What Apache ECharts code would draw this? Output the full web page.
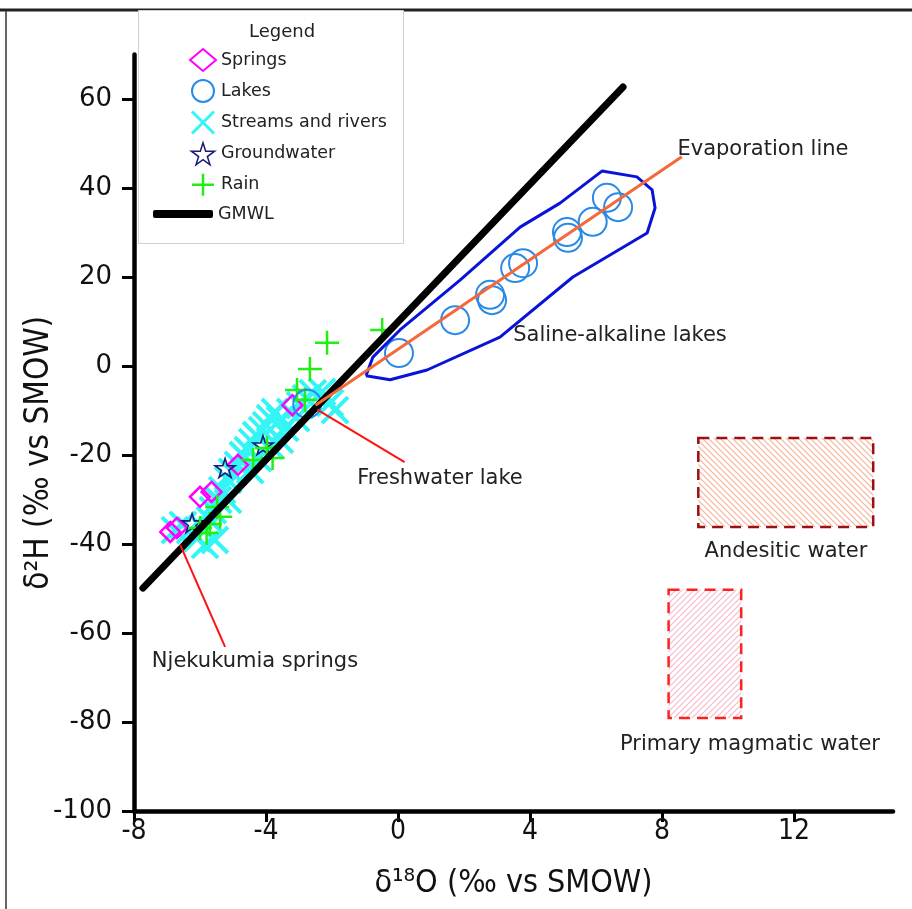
<!DOCTYPE html>
<html><head><meta charset="utf-8">
<script src="https://cdn.jsdelivr.net/npm/echarts@6/dist/echarts.min.js"></script>
<style>html,body{margin:0;padding:0;background:#fff}#c{width:912px;height:909px}</style>
</head><body><div id="c"></div>
<script>
// ---- axis ticks ----
const xTicks = [-8, -4, 0, 4, 8, 12];
const yTicks = [-100, -80, -60, -40, -20, 0, 20, 40, 60];

// ---- data (δ18O, δ2H) ----
const springsX = [-6.9, -6.7, -6.0, -5.65, -4.85, -3.2];
const springsY = [-37.3, -36.4, -29.4, -28.3, -22.2, -8.8];

const lakesX = [-2.75, 0.03, 1.73, 2.79, 2.85, 3.55, 3.79, 5.12, 5.15, 5.9, 6.33, 6.67];
const lakesY = [-8.5, 2.9, 10.3, 16.0, 14.8, 22.0, 23.1, 30.1, 28.8, 32.4, 37.8, 35.7];

const streamsX = [-6.76, -6.52, -6.30, -6.09, -5.85, -5.70, -5.61, -5.45, -5.33, -5.15, -5.03, -4.85, -4.70, -4.55, -4.42, -4.30, -4.12, -4.0, -3.88, -3.73, -3.58, -3.42, -3.27, -3.09, -2.97, -2.79, -2.58, -2.30, -2.06, -1.91, -4.48, -4.24, -5.15, -5.55, -5.85, -3.88, -3.58];
const streamsY = [-36.9, -35.7, -36.9, -38.7, -36.9, -34.6, -32.4, -30.1, -27.9, -25.6, -23.8, -22.2, -20.0, -18.9, -17.1, -15.5, -14.4, -13.3, -11.7, -10.3, -12.1, -13.9, -10.3, -11.7, -8.8, -7.2, -6.1, -5.8, -8.3, -9.9, -23.4, -20.7, -30.1, -39.1, -40.2, -17.8, -16.6];

const groundX = [-6.24, -5.24, -4.09];
const groundY = [-35.3, -22.9, -17.8];

const rainX = [-0.48, -2.15, -2.67, -3.06, -2.82, -4.39, -3.97, -3.8, -5.48, -5.39, -5.8, -6.0, -5.7];
const rainY = [8.1, 5.2, -0.7, -5.4, -7.6, -21.1, -18.4, -20.7, -31.7, -33.9, -37.5, -36.4, -35.5];

const gmwlX = [-7.73, 6.82];
const gmwlY = [-49.9, 62.7];

const evapX = [-2.5, 8.6];
const evapY = [-8.8, 47.0];

const salineX = [-0.97, -0.24, 0.88, 3.09, 5.3, 7.55, 7.79, 7.7, 7.24, 6.18, 4.91, 3.7, 1.88, 0.06, -0.76, -0.97];
const salineY = [-2.2, -3.1, -0.9, 6.5, 20, 29.9, 35.5, 39.6, 42.5, 43.8, 36.6, 31.2, 19.3, 8.1, 2.0, -2.2];

// boxes: [xMin, xMax, yMin, yMax]
const andesiticBox = [9.1, 14.4, -36.2, -16.2];
const magmaticBox = [8.2, 10.4, -79.1, -50.3];

// arrows: [fromX, fromY, toX, toY]
const freshArrow = [0.2, -21.6, -2.45, -9.8];
const springArrow = [-5.24, -63.1, -6.6, -40.2];

function zip(a, b) { return a.map((v, i) => [v, b[i]]); }

function hatch(color, dir) {
  const c = document.createElement('canvas');
  c.width = 6; c.height = 6;
  const g = c.getContext('2d');
  g.strokeStyle = color; g.lineWidth = 1.2;
  g.beginPath();
  if (dir > 0) {
    g.moveTo(-1, 7); g.lineTo(7, -1);
    g.moveTo(-1, 1); g.lineTo(1, -1);
    g.moveTo(5, 7); g.lineTo(7, 5);
  } else {
    g.moveTo(-1, -1); g.lineTo(7, 7);
    g.moveTo(-1, 5); g.lineTo(1, 7);
    g.moveTo(5, -1); g.lineTo(7, 1);
  }
  g.stroke();
  return c;
}

const STAR = 'path://M50 0 L61 35 L98 35 L68 57 L79 91 L50 70 L21 91 L32 57 L2 35 L39 35 Z';
const XS = 'path://M0 0 L10 10 M10 0 L0 10';
const PLUS = 'path://M5 0 L5 10 M0 5 L10 5';
const T = 'rgba(0,0,0,0)';
const ANN = {fontSize: 21, fontFamily: 'DejaVu Sans', fill: '#222', align: 'center', verticalAlign: 'middle'};

const chart = echarts.init(document.getElementById('c'), null, {renderer: 'canvas'});

function boxSeries(name, box, stroke, fillColor, dir) {
  return {
    name: name, type: 'custom', silent: true, z: 1,
    data: [box],
    renderItem: function (params, api) {
      const p0 = api.coord([api.value(0), api.value(3)]);
      const p1 = api.coord([api.value(1), api.value(2)]);
      return {
        type: 'rect',
        shape: {x: p0[0], y: p0[1], width: p1[0] - p0[0], height: p1[1] - p0[1]},
        style: {fill: {image: hatch(fillColor, dir), repeat: 'repeat'}, stroke: stroke, lineWidth: 2.5, lineDash: [11, 7]}
      };
    },
    encode: {x: [0, 1], y: [2, 3]}
  };
}

const option = {
  animation: false,
  grid: {left: 134, right: 19, top: 54.5, bottom: 98},
  xAxis: {
    type: 'value', min: -8, max: 15,
    axisLine: {onZero: false, lineStyle: {color: '#000', width: 4.5}},
    axisTick: {length: 11, lineStyle: {width: 3, color: '#000'}, customValues: xTicks},
    axisLabel: {customValues: xTicks, margin: 7, fontSize: 28, fontFamily: 'DejaVu Sans Condensed', color: '#111'},
    splitLine: {show: false},
    name: 'δ¹⁸O (‰ vs SMOW)', nameLocation: 'middle', nameGap: 57,
    nameTextStyle: {fontSize: 32, fontFamily: 'DejaVu Sans Condensed', color: '#111'}
  },
  yAxis: {
    type: 'value', min: -100, max: 70,
    axisLine: {onZero: false, lineStyle: {color: '#000', width: 4.5}},
    axisTick: {length: 12, lineStyle: {width: 3, color: '#000'}, customValues: yTicks},
    axisLabel: {customValues: yTicks, margin: 22, fontSize: 26, fontFamily: 'DejaVu Sans', color: '#111'},
    splitLine: {show: false},
    name: 'δ²H (‰ vs SMOW)', nameLocation: 'middle', nameGap: 78, nameMoveOverlap: false,
    nameTextStyle: {fontSize: 33, fontFamily: 'DejaVu Sans Condensed', color: '#111', padding: [0, 40, 0, 0]}
  },
  legend: [{
    data: [
      {name: 'Springs'},
      {name: 'Lakes'},
      {name: 'Streams and rivers', itemStyle: {borderWidth: 3}},
      {name: 'Groundwater', itemStyle: {borderWidth: 1.5}},
      {name: 'Rain', itemStyle: {borderWidth: 2.5}}
    ],
    orient: 'vertical', left: 189, top: 48, itemWidth: 26, itemHeight: 22, itemGap: 7,
    selectedMode: false, padding: 0,
    textStyle: {fontSize: 17.5, fontFamily: 'DejaVu Sans', color: '#222'}
  }, {
    data: [{name: 'GMWL', icon: 'roundRect', itemStyle: {color: '#000', borderWidth: 0}}],
    orient: 'vertical', left: 153, top: 205, itemWidth: 60, itemHeight: 8,
    selectedMode: false, padding: 0,
    textStyle: {fontSize: 17.5, fontFamily: 'DejaVu Sans', color: '#222'}
  }],
  graphic: [
    {type: 'line', shape: {x1: 0, y1: 10, x2: 912, y2: 10}, style: {stroke: '#222', lineWidth: 3}, z: 0},
    {type: 'line', shape: {x1: 6, y1: 10, x2: 6, y2: 909}, style: {stroke: '#333', lineWidth: 1.5}, z: 0},
    {type: 'rect', shape: {x: 138.5, y: 10.5, width: 265, height: 233}, style: {fill: '#fff', stroke: '#d0d0d0', lineWidth: 1}, z: 0},
    {type: 'text', x: 282, y: 32, style: Object.assign({}, ANN, {text: 'Legend', fontSize: 18}), z: 5},
    {type: 'text', x: 763, y: 150, style: Object.assign({}, ANN, {text: 'Evaporation line'}), z: 5},
    {type: 'text', x: 620, y: 336, style: Object.assign({}, ANN, {text: 'Saline-alkaline lakes'}), z: 5},
    {type: 'text', x: 440, y: 479, style: Object.assign({}, ANN, {text: 'Freshwater lake'}), z: 5},
    {type: 'text', x: 255, y: 662, style: Object.assign({}, ANN, {text: 'Njekukumia springs'}), z: 5},
    {type: 'text', x: 786, y: 552, style: Object.assign({}, ANN, {text: 'Andesitic water'}), z: 5},
    {type: 'text', x: 750, y: 745, style: Object.assign({}, ANN, {text: 'Primary magmatic water'}), z: 5}
  ],
  series: [
    boxSeries('Andesitic water', andesiticBox, '#9b1111', '#f5b29a', -1),
    boxSeries('Primary magmatic water', magmaticBox, '#ff2020', '#f5b9cc', 1),
    {
      name: 'Streams and rivers', type: 'scatter', data: zip(streamsX, streamsY),
      symbol: XS, symbolSize: 26, symbolKeepAspect: true,
      itemStyle: {color: T, borderColor: '#33f5f5', borderWidth: 4, opacity: 1}, silent: true
    },
    {
      name: 'Springs', type: 'scatter', data: zip(springsX, springsY),
      symbol: 'diamond', symbolSize: 20, symbolKeepAspect: true,
      itemStyle: {color: T, borderColor: '#ff00ff', borderWidth: 2.5, opacity: 1}, silent: true
    },
    {
      name: 'Groundwater', type: 'scatter', data: zip(groundX, groundY),
      symbol: STAR, symbolSize: 20, symbolKeepAspect: true,
      itemStyle: {color: T, borderColor: '#1a1a7a', borderWidth: 1.6, opacity: 1}, silent: true
    },
    {
      name: 'Rain', type: 'scatter', data: zip(rainX, rainY),
      symbol: PLUS, symbolSize: 24, symbolKeepAspect: true,
      itemStyle: {color: T, borderColor: '#22ee11', borderWidth: 2.5, opacity: 1}, silent: true
    },
    {
      name: 'GMWL', type: 'line', data: zip(gmwlX, gmwlY), showSymbol: false, symbol: 'none',
      lineStyle: {color: '#000', width: 7, cap: 'round'}, itemStyle: {color: '#000'}, silent: true
    },
    {
      name: 'Saline outline', type: 'line', data: zip(salineX, salineY), showSymbol: false, symbol: 'none',
      lineStyle: {color: '#0a14d8', width: 3, join: 'round'}, silent: true
    },
    {
      name: 'Lakes', type: 'scatter', data: zip(lakesX, lakesY),
      symbol: 'circle', symbolSize: 28, symbolKeepAspect: true,
      itemStyle: {color: T, borderColor: '#2a8ae8', borderWidth: 2, opacity: 1}, silent: true
    },
    {
      name: 'Evaporation line', type: 'line', data: zip(evapX, evapY), showSymbol: false, symbol: 'none',
      lineStyle: {color: '#f4683a', width: 3}, silent: true
    },
    {
      name: 'Arrows', type: 'scatter', data: [], silent: true,
      markLine: {
        silent: true, symbol: ['none', 'triangle'], symbolSize: [0, 12],
        label: {show: false}, lineStyle: {color: '#ff1111', width: 2, type: 'solid'},
        emphasis: {disabled: true},
        data: [
          [{coord: [freshArrow[0], freshArrow[1]]}, {coord: [freshArrow[2], freshArrow[3]]}],
          [{coord: [springArrow[0], springArrow[1]]}, {coord: [springArrow[2], springArrow[3]]}]
        ]
      }
    }
  ]
};
chart.setOption(option);
</script>
</body></html>
